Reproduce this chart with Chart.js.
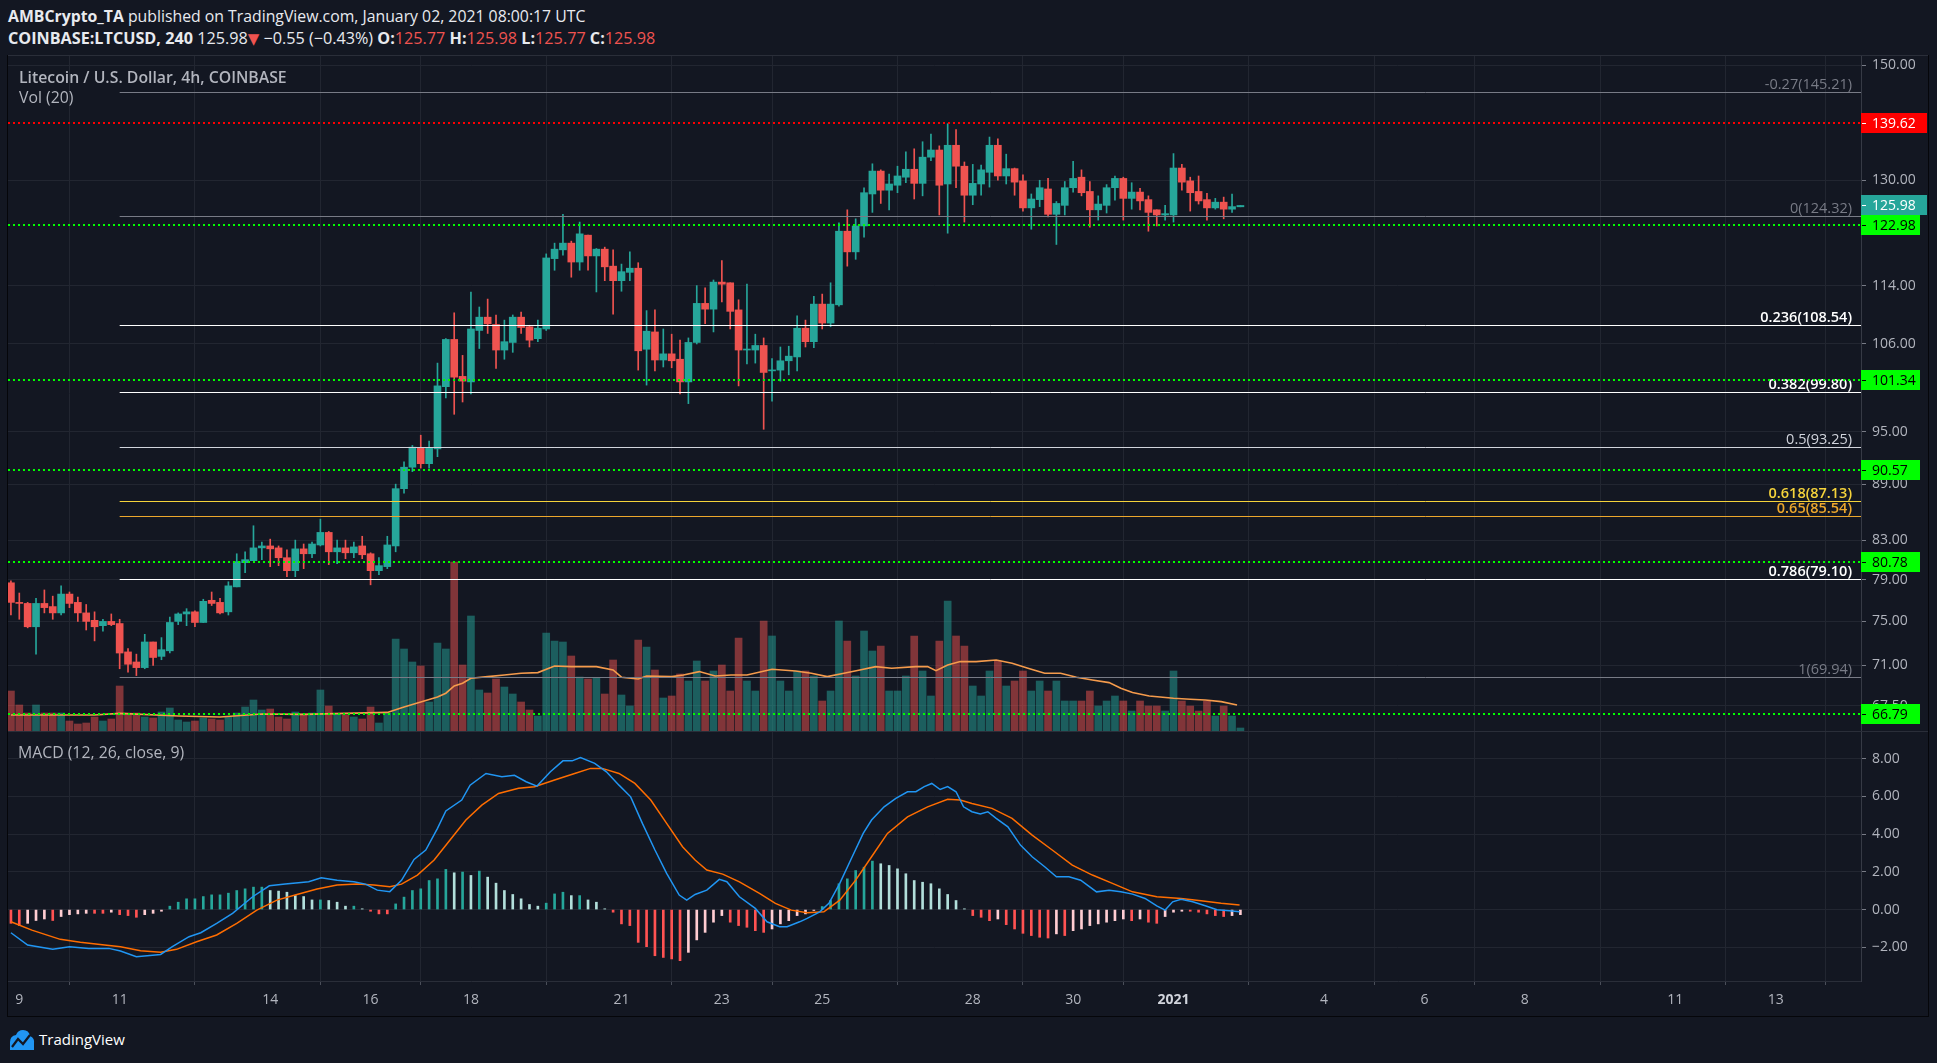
<!DOCTYPE html>
<html>
<head>
<meta charset="utf-8">
<title>Litecoin / U.S. Dollar, 4h, COINBASE</title>
<script src="https://cdn.jsdelivr.net/npm/chart.js"></script>
<style>
    body {
        margin: 0;
        background-color: #131722;
        width: 1937px;
        height: 1063px;
        overflow: hidden;
        font-family: 'Open Sans', sans-serif;
        position: relative;
    }
    .txt { position: absolute; white-space: nowrap; line-height: 20px; }
    .hdr { color: #e8eaef; font-size: 16.2px; left: 8px; }
    .legend { color: #b2b5be; font-size: 15.8px; }
    .red { color: #ef5350; }
    .line { position: absolute; }
    canvas { position: absolute; left: 0; }
</style>
</head>
<body>
    <div class="txt hdr" style="top:6px;font-size:15.8px"><b>AMBCrypto_TA</b> published on TradingView.com, January 02, 2021 08:00:17 UTC</div>
    <div class="txt hdr" style="top:28px"><b>COINBASE:LTCUSD, 240</b> 125.98<span class="red" style="font-family:'DejaVu Sans';font-size:15px">▼</span> −0.55 (−0.43%) <b>O:</b><span class="red">125.77</span> <b>H:</b><span class="red">125.98</span> <b>L:</b><span class="red">125.77</span> <b>C:</b><span class="red">125.98</span></div>

    <canvas id="mainChart" width="1928" height="675" style="top:56px;width:1928px;height:675px"></canvas>
    <canvas id="macdChart" width="1928" height="284" style="top:732px;width:1928px;height:284px"></canvas>

    <div class="txt legend" style="left:19px;top:67px;font-weight:600">Litecoin / U.S. Dollar, 4h, COINBASE</div>
    <div class="txt legend" style="left:19px;top:87px">Vol (20)</div>
    <div class="txt legend" style="left:18px;top:742px">MACD (12, 26, close, 9)</div>

    <!-- frame and pane separators -->
    <div class="line" style="left:7px;top:55px;width:1921px;height:1px;background:#2a2e39"></div>
    <div class="line" style="left:7px;top:731px;width:1921px;height:1px;background:#2a2e39"></div>
    <div class="line" style="left:7px;top:1016px;width:1922px;height:1px;background:#05060a"></div>
    <div class="line" style="left:7px;top:55px;width:1px;height:962px;background:#05060a"></div>
    <div class="line" style="left:1928px;top:55px;width:1px;height:962px;background:#05060a"></div>

    <svg style="position:absolute;left:8px;top:1029px" width="28" height="21" viewBox="0 0 28 21">
        <path d="M2 21 L2 13 Q2 7 8 6 Q10 1 15 1 Q21 1 22 7 Q27 9 26 15 L26 21 Z" fill="#2196f3"/>
        <polyline points="4,18 10,10 15,15 22,6" fill="none" stroke="#131722" stroke-width="2.2"/>
    </svg>
    <div class="txt" style="left:39px;top:1029px;color:#ffffff;font-size:15px">TradingView</div>

<script>
    // 4h candles, index 0 = Dec 8 20:00 UTC ... index 147 = Jan 2 08:00 UTC
    const opens = [78.7,76.8,76.7,74.5,76.7,76.4,75.8,77.6,76.8,75.8,75.1,74.6,75.0,74.8,72.2,71.3,70.8,73.1,71.8,72.3,
        75.0,75.7,75.9,74.9,77.0,76.8,75.9,78.3,80.7,80.9,82.2,82.4,82.2,81.2,79.9,82.1,81.6,82.5,83.8,81.8,
        82.2,81.7,82.4,81.6,79.9,80.3,82.4,88.5,90.9,93.1,91.3,93.0,100.5,106.6,101.8,101.1,107.8,109.6,108.6,105.2,
        106.2,109.6,108.3,106.7,108.0,117.9,119.2,120.2,117.4,121.4,118.3,119.3,116.8,114.7,115.9,116.5,105.3,107.6,103.9,104.7,
        104.0,101.1,106.2,111.5,110.7,114.5,114.4,110.6,105.2,105.2,105.8,102.5,102.6,103.8,104.3,108.1,106.3,111.4,108.8,111.3,
        122.0,118.9,122.8,127.8,131.5,128.4,129.2,130.5,131.8,129.5,133.8,135.0,129.4,135.8,132.3,127.6,129.4,131.3,135.8,130.7,
        131.9,129.9,125.6,126.9,128.6,124.6,126.0,128.8,130.5,128.2,125.3,126.0,128.8,130.3,127.1,128.1,126.9,125.3,124.5,124.5,
        132.0,129.9,128.2,126.9,125.6,126.5,125.4,125.77];
    const highs = [78.9,77.7,76.8,77.2,78.0,77.4,78.4,77.8,77.3,76.6,75.9,75.2,75.7,75.2,72.5,72.0,73.8,73.1,73.5,75.4,
        75.8,76.2,76.0,77.1,77.8,77.2,78.8,81.6,81.8,84.5,82.8,83.1,82.4,82.0,83.0,82.6,82.8,85.2,83.9,83.0,
        83.0,82.8,83.4,81.7,81.2,83.4,89.0,91.5,93.4,94.6,93.9,103.5,106.7,110.2,104.5,113.1,111.0,112.1,109.9,109.2,
        109.9,110.3,108.5,109.2,118.6,120.2,124.6,120.5,123.4,121.4,119.4,119.6,119.2,117.1,118.9,117.3,110.5,110.6,108.0,107.3,
        106.5,106.8,114.0,113.7,114.8,117.6,114.4,112.0,114.2,107.3,106.8,104.1,105.6,105.7,109.8,109.2,112.5,112.8,114.4,123.3,
        125.3,123.9,128.8,132.7,131.7,131.0,132.3,134.7,135.2,136.4,137.7,135.7,139.5,138.5,133.0,132.6,132.5,137.2,136.9,134.3,
        132.0,130.9,127.8,130.0,130.3,126.6,129.8,133.1,131.7,129.8,127.5,129.3,130.7,130.5,129.6,128.7,127.5,125.3,126.0,134.4,
        132.6,130.5,130.7,127.9,127.1,127.3,127.8,125.98];
    const lows = [75.6,75.2,74.4,72.0,75.8,75.2,75.6,76.3,75.0,74.2,73.2,74.1,74.6,70.7,70.4,70.1,70.7,71.0,71.5,72.1,
        74.7,74.6,74.5,74.9,76.5,75.7,75.6,78.3,79.7,80.9,81.0,80.3,80.4,79.3,79.3,80.1,81.2,82.4,80.5,80.6,
        81.1,81.2,81.1,78.5,79.5,80.1,81.8,88.0,90.4,90.8,90.8,92.1,99.1,97.1,98.6,99.6,105.4,107.4,102.8,104.0,
        104.9,107.4,105.6,106.3,107.8,116.2,118.4,115.2,116.2,116.2,113.1,114.7,110.0,113.2,114.7,102.6,100.7,102.5,103.0,102.9,
        99.6,98.4,106.0,108.7,107.6,111.7,108.0,100.6,103.4,103.5,95.3,98.7,101.2,102.0,102.5,105.6,105.5,108.0,108.3,111.1,
        116.8,117.8,121.1,124.9,126.3,125.3,128.0,129.6,127.0,127.5,133.2,124.5,121.7,128.8,123.4,126.1,127.6,128.9,130.0,129.4,
        127.6,125.1,122.3,125.8,124.2,120.0,124.5,128.1,127.5,122.6,123.7,124.8,126.8,123.7,125.4,125.3,122.0,122.8,123.7,123.4,
        128.4,125.1,126.2,123.7,125.4,123.9,124.9,125.77];
    const closes = [76.8,76.7,74.5,76.7,76.3,75.8,77.6,76.7,75.8,75.0,74.5,75.0,74.7,72.1,71.1,70.8,73.1,71.7,72.4,74.9,
        75.7,75.9,74.9,76.9,76.7,75.8,78.4,80.8,81.0,82.2,82.4,82.1,81.2,79.9,82.1,81.6,82.6,83.8,81.8,82.2,
        81.7,82.3,81.5,79.9,80.4,82.5,88.5,90.9,93.2,91.3,93.1,100.6,106.6,101.7,101.2,108.0,109.6,108.7,105.2,106.3,
        109.6,108.2,106.5,108.1,118.0,119.3,120.2,117.4,121.6,118.3,119.3,116.7,114.7,116.0,116.5,105.1,107.7,103.9,104.7,103.8,
        101.1,106.2,111.5,110.7,114.5,114.2,110.4,105.2,105.3,105.8,102.3,102.6,103.8,104.4,108.1,106.3,111.4,108.8,111.4,122.0,
        118.9,122.8,128.0,131.5,128.4,129.4,130.7,131.8,129.5,133.8,135.0,129.2,135.8,132.3,127.6,129.5,131.7,135.8,130.7,131.9,
        129.7,125.6,127.0,128.8,124.6,126.3,128.8,130.3,128.0,125.3,126.2,128.8,130.3,127.1,128.1,126.7,124.9,124.5,124.7,132.0,
        129.7,128.0,126.7,125.6,126.5,125.4,125.8,125.98];
    // volume, thousand LTC per candle
    const volumes = [200,130,90,130,90,90,90,50,35,40,70,50,60,225,90,90,70,65,95,115,
        55,45,50,65,60,55,70,90,120,155,105,110,70,60,95,85,90,205,125,85,
        80,70,60,120,40,90,460,410,345,325,145,440,410,845,330,575,205,190,260,220,
        185,145,105,75,490,450,445,375,270,260,265,185,355,180,125,455,420,305,165,175,
        285,250,350,250,300,330,200,465,250,200,550,475,250,200,300,300,275,150,200,550,
        450,275,500,400,425,200,200,275,475,300,175,450,650,475,425,225,175,300,350,225,
        250,300,200,250,200,250,150,150,150,200,125,150,175,150,100,150,125,125,100,300,
        150,125,100,150,75,125,75,15];
    const volMaIdx = [0,10,13,20,25,30,35,40,45,47,49,51,52,53,54,55,57,59,61,63,65,67,70,72,73,75,76,79,80.4,82.3,
        84.2,86.1,88,91,93.8,95.7,97.6,99.6,101.5,103.4,105.3,108.2,109.6,110.6,112,113.5,115.4,117.8,119.7,121.6,
        123.6,125.5,127.4,129.3,131.3,132.7,134.1,136.1,139,141,142.8,144.7,146.6];
    const volMaVals = [80,80,88,75,70,85,83,88,93,120,145,170,189,225,239,264,272,280,289,292,325,322,322,305,269,260,275,272,280,297,
        275,280,280,309,300,289,272,289,305,322,314,322,322,302,330,347,347,355,339,314,
        289,289,269,255,242,214,192,175,164,159,155,147,130];

    // MACD (12, 26, close, 9)
    const macdIdx = [0,2,5,7,9.3,11.7,13.1,15,17.9,19.3,21.3,22.7,24.6,26.5,28.9,30.9,32.8,34.7,35.6,37.1,
        39,41,42.4,43.8,45.3,46.7,48.2,49.6,51,52,53.9,54.9,56.8,58.7,60.2,61.6,62.9,64.5,66,67.1,
        68.1,69.8,71.2,72.7,74.1,75.5,77,78.4,79.9,80.8,81.8,83.2,84.7,85.6,87.1,89,90.4,91.9,92.8,94.3,
        95.2,96.7,97.8,99.1,100.5,101.9,102.9,104.4,105.8,107.2,108.2,109.2,110.1,111.1,112,113,113.9,114.9,115.9,116.8,
        117.8,119.2,120.7,122.1,123.6,125,126.5,127.9,129.8,131.3,132.7,134.1,135.6,137,138,138.9,139.9,141.3,142.8,144.2,
        145.7,146.9];
    const macdVals = [-1.23,-1.88,-2.11,-1.97,-2.06,-2.06,-2.2,-2.5,-2.38,-1.97,-1.44,-1.23,-0.73,-0.2,0.68,1.26,1.35,1.44,1.48,1.69,
        1.55,1.48,1.35,1.03,0.95,1.55,2.66,3.16,4.31,5.23,5.81,6.6,7.22,7.05,7.12,6.78,6.55,7.31,7.89,7.89,
        8.07,7.76,7.31,6.6,5.98,4.57,3.16,1.92,0.77,0.5,0.8,1.03,1.6,1.48,0.68,0.06,-0.65,-0.91,-0.91,-0.65,
        -0.47,-0.12,0.33,1.39,2.72,4.04,4.75,5.45,5.9,6.25,6.25,6.52,6.69,6.37,6.52,6.25,5.45,5.19,5.07,5.19,
        4.84,4.39,3.42,2.8,2.27,1.74,1.74,1.56,0.94,1.03,0.94,0.82,0.59,0.2,-0.03,0.41,0.54,0.41,0.2,-0.01,
        -0.06,-0.12];
    const signalIdx = [0,2.5,5.9,8.3,11.2,13.1,15.5,17.9,19.8,22.2,24.6,27,29.4,31.8,34.2,36.6,39,41.4,43.4,45.3,
        46.7,48.6,50.6,52.5,54.4,56.3,58.3,60.7,62.6,65,67.4,69.3,70.7,72.7,74.6,76.5,78.4,80.3,81.8,83.2,
        85.1,87.1,89.5,91.4,93.3,95.2,97.2,99.1,101,102.9,104.8,107.2,109.6,112,113.5,114.9,117.3,119.7,122.1,124.5,
        126.9,129.3,131.7,134.1,137,139.9,142.3,144.7,146.9];
    const signalVals = [-0.65,-1.09,-1.58,-1.74,-1.88,-1.97,-2.18,-2.27,-2.11,-1.71,-1.35,-0.73,-0.03,0.5,0.8,1.09,1.3,1.35,1.3,1.21,
        1.35,1.83,2.63,3.69,4.75,5.54,6.16,6.43,6.52,6.87,7.22,7.49,7.49,7.22,6.69,5.81,4.57,3.33,2.63,2.1,
        1.88,1.47,0.86,0.33,-0.03,-0.17,-0.12,0.5,1.56,2.8,4.04,4.92,5.45,5.85,5.81,5.63,5.37,4.84,3.95,3.16,
        2.36,1.83,1.39,0.94,0.68,0.59,0.47,0.33,0.24];
    const hist = [-0.73,-0.85,-0.73,-0.58,-0.5,-0.58,-0.37,-0.27,-0.23,-0.2,-0.2,-0.2,-0.14,-0.27,-0.32,-0.41,-0.27,-0.2,-0.09,0.18,
        0.39,0.57,0.57,0.69,0.78,0.78,0.87,1.01,1.1,1.19,1.19,1.01,0.98,0.92,0.74,0.69,0.51,0.51,0.48,0.39,
        0.18,0.18,0.04,-0.09,-0.23,-0.23,0.3,0.66,1.01,1.1,1.54,1.63,2.13,1.95,1.99,1.81,2.04,1.72,1.4,1.01,
        0.8,0.57,0.27,0.18,0.34,0.83,0.92,0.74,0.74,0.51,0.39,0.04,-0.14,-0.76,-0.85,-1.74,-1.97,-2.45,-2.54,-2.62,
        -2.71,-2.27,-1.61,-1.21,-0.67,-0.32,-0.67,-0.85,-0.94,-1.12,-1.21,-1.03,-0.76,-0.59,-0.32,-0.23,-0.05,0.16,0.48,1.37,
        1.63,2.07,2.25,2.57,2.43,2.34,2.16,1.9,1.54,1.45,1.37,1.1,0.8,0.48,0.04,-0.32,-0.41,-0.59,-0.5,-0.8,
        -1.03,-1.26,-1.38,-1.47,-1.51,-1.29,-1.38,-1.12,-1.03,-0.85,-0.76,-0.67,-0.59,-0.5,-0.59,-0.5,-0.67,-0.73,-0.37,-0.14,
        -0.09,-0.09,-0.14,-0.23,-0.32,-0.37,-0.32,-0.27];

    // axis ticks
    const priceTicks = [67.5, 71, 75, 79, 83, 89, 95, 106, 114, 130, 150];
    const macdTicks = [-2, 0, 2, 4, 6, 8];
    const timeTickIdx = [1, 13, 31, 43, 55, 73, 85, 97, 115, 127, 139, 157, 169, 181, 199, 211];
    const timeTickLabels = ['9', '11', '14', '16', '18', '21', '23', '25', '28', '30', '2021', '4', '6', '8', '11', '13'];

    // Fibonacci retracement drawn from Dec 11
    const fibStart = 13;
    const fibRatios = ['-0.27', '0', '0.236', '0.382', '0.5', '0.618', '0.65', '0.786', '1'];
    const fibPrices = [145.21, 124.32, 108.54, 99.80, 93.25, 87.13, 85.54, 79.10, 69.94];
    const fibColors = ['#787b86', '#787b86', '#ffffff', '#ffffff', '#d1d4dc', '#f5d33b', '#eca72c', '#ffffff', '#787b86'];
    const fibBold = [false, false, true, true, false, true, true, true, false];

    // horizontal support / resistance levels
    const levelPrices = [139.62, 122.98, 101.34, 90.57, 80.78, 66.79];
    const levelColors = ['#ff0000', '#00ff00', '#00ff00', '#00ff00', '#00ff00', '#00ff00'];
    const lastPrice = 125.98;

    const upColor = '#26a69a';
    const downColor = '#ef5350';
    const gridColor = '#222631';
    const axisText = '#b2b5be';
    const fontFam = "'Open Sans', sans-serif";
    const xMin = -0.35, xMax = 221.2;

    const isUp = closes.map((c, i) => c >= opens[i]);

    // keep the plot area edge to edge: no extra room for half tick labels
    function noLabelPadding(s) {
        s.paddingTop = 0;
        s.paddingBottom = 0;
        s.paddingLeft = 0;
        s.paddingRight = 0;
    }

    const levelsPlugin = {
        id: 'levels',
        afterDatasetsDraw(chart) {
            const { ctx, chartArea: a, scales: { x, y } } = chart;
            ctx.save();
            const fx = x.getPixelForValue(fibStart);
            fibPrices.forEach((p, k) => {
                const py = Math.round(y.getPixelForValue(p)) + 0.5;
                ctx.strokeStyle = fibColors[k];
                ctx.lineWidth = 1;
                ctx.beginPath();
                ctx.moveTo(fx, py);
                ctx.lineTo(a.right, py);
                ctx.stroke();
                ctx.fillStyle = fibColors[k];
                ctx.font = (fibBold[k] ? '600 ' : '') + '14.5px ' + fontFam;
                ctx.textAlign = 'right';
                ctx.textBaseline = 'alphabetic';
                ctx.fillText(fibRatios[k] + '(' + p.toFixed(2) + ')', a.right - 9, py - 4);
            });
            ctx.lineWidth = 2;
            ctx.setLineDash([2, 3]);
            levelPrices.forEach((p, k) => {
                const py = Math.round(y.getPixelForValue(p));
                ctx.strokeStyle = levelColors[k];
                ctx.beginPath();
                ctx.moveTo(a.left, py);
                ctx.lineTo(a.right, py);
                ctx.stroke();
            });
            ctx.restore();
        },
        afterDraw(chart) {
            const { ctx, chartArea: a, scales: { y } } = chart;
            ctx.save();
            ctx.font = '14px ' + fontFam;
            ctx.textBaseline = 'middle';
            ctx.textAlign = 'left';
            const tags = levelPrices.map((p, k) => ({ p, bg: levelColors[k], fg: k === 0 ? '#ffffff' : '#000000', w: k === 0 ? 66 : 59 }));
            tags.push({ p: lastPrice, bg: upColor, fg: '#ffffff', w: 66 });
            tags.forEach(t => {
                const py = Math.round(y.getPixelForValue(t.p));
                ctx.fillStyle = t.bg;
                ctx.fillRect(a.right, py - 10, t.w, 20);
                ctx.fillStyle = t.fg;
                ctx.fillRect(a.right + 1, py, 4, 1);
                ctx.fillText(t.p.toFixed(2), a.right + 11, py + 1);
            });
            ctx.restore();
        }
    };

    new Chart(document.getElementById('mainChart'), {
        type: 'bar',
        data: {
            datasets: [
                {
                    type: 'bar', label: 'Body', yAxisID: 'y', order: 1, grouped: false,
                    data: opens.map((o, i) => ({ x: i, y: [Math.min(o, closes[i]), Math.max(o, closes[i])] })),
                    backgroundColor: isUp.map(u => u ? upColor : downColor),
                    barThickness: 7, minBarLength: 1, borderWidth: 0
                },
                {
                    type: 'bar', label: 'Wick', yAxisID: 'y', order: 2, grouped: false,
                    data: lows.map((l, i) => ({ x: i, y: [l, highs[i]] })),
                    backgroundColor: isUp.map(u => u ? upColor : downColor),
                    barThickness: 1, borderWidth: 0
                },
                {
                    type: 'line', label: 'Vol MA', yAxisID: 'yv', order: 3,
                    data: volMaIdx.map((v, k) => ({ x: v, y: volMaVals[k] })),
                    borderColor: '#f59b4c', borderWidth: 1.6, pointRadius: 0, tension: 0
                },
                {
                    type: 'bar', label: 'Volume', yAxisID: 'yv', order: 4, grouped: false,
                    data: volumes.map((v, i) => ({ x: i, y: v })),
                    backgroundColor: isUp.map(u => u ? 'rgba(38,166,154,0.5)' : 'rgba(239,83,80,0.5)'),
                    barThickness: 7, borderWidth: 0
                }
            ]
        },
        options: {
            responsive: false,
            animation: false,
            devicePixelRatio: 1,
            layout: { padding: { left: 8, right: 0, top: 0, bottom: 0 } },
            plugins: { legend: { display: false }, tooltip: { enabled: false } },
            scales: {
                x: {
                    type: 'linear', min: xMin, max: xMax, offset: false, bounds: 'data',
                    afterBuildTicks: s => { s.ticks = timeTickIdx.map(v => ({ value: v })); },
                    afterFit: s => { s.height = 0; noLabelPadding(s); },
                    ticks: { display: false },
                    grid: { color: gridColor, drawTicks: false },
                    border: { display: false }
                },
                y: {
                    type: 'logarithmic', position: 'right', min: 65.42, max: 151.79, bounds: 'data',
                    afterBuildTicks: s => { s.ticks = priceTicks.map(v => ({ value: v })); },
                    afterFit: s => { s.width = 67; noLabelPadding(s); },
                    ticks: {
                        callback: v => Number(v).toFixed(2),
                        color: axisText, font: { family: fontFam, size: 14 }, padding: 6, autoSkip: false
                    },
                    grid: { color: gridColor, tickColor: '#787b86', tickLength: 5 },
                    border: { color: '#363a45' }
                },
                yv: { display: false, min: 0, max: 3375 }
            }
        },
        plugins: [levelsPlugin]
    });

    // MACD histogram colours: growing / falling above and below zero
    const histColors = hist.map((v, i) => {
        const prev = i > 0 ? hist[i - 1] : v;
        if (v >= 0) return v >= prev ? '#26a69a' : '#b2dfdb';
        return v <= prev ? '#ff5252' : '#ffcdd2';
    });

    new Chart(document.getElementById('macdChart'), {
        type: 'bar',
        data: {
            datasets: [
                {
                    type: 'line', label: 'MACD', order: 1,
                    data: macdIdx.map((v, k) => ({ x: v, y: macdVals[k] })),
                    borderColor: '#2196f3', borderWidth: 1.5, pointRadius: 0, tension: 0
                },
                {
                    type: 'line', label: 'Signal', order: 2,
                    data: signalIdx.map((v, k) => ({ x: v, y: signalVals[k] })),
                    borderColor: '#ff6d00', borderWidth: 1.5, pointRadius: 0, tension: 0
                },
                {
                    type: 'bar', label: 'Histogram', order: 3, grouped: false,
                    data: hist.map((v, i) => ({ x: i, y: v })),
                    backgroundColor: histColors, barThickness: 2, borderWidth: 0
                }
            ]
        },
        options: {
            responsive: false,
            animation: false,
            devicePixelRatio: 1,
            layout: { padding: { left: 8, right: 0, top: 0, bottom: 0 } },
            plugins: { legend: { display: false }, tooltip: { enabled: false } },
            scales: {
                x: {
                    type: 'linear', min: xMin, max: xMax, offset: false, bounds: 'data',
                    afterBuildTicks: s => { s.ticks = timeTickIdx.map(v => ({ value: v })); },
                    afterFit: s => { s.height = 35; noLabelPadding(s); },
                    ticks: {
                        autoSkip: false, maxRotation: 0, padding: 7,
                        callback: v => timeTickLabels[timeTickIdx.indexOf(v)],
                        color: ctx => ctx.tick && ctx.tick.label === '2021' ? '#d1d4dc' : axisText,
                        font: ctx => ({ family: fontFam, size: 14, weight: ctx.tick && ctx.tick.label === '2021' ? 'bold' : 'normal' })
                    },
                    grid: { color: gridColor, tickColor: '#4a4e59', tickLength: 4 },
                    border: { color: '#2a2e39' }
                },
                y: {
                    type: 'linear', position: 'right', min: -3.79, max: 9.42, bounds: 'data',
                    afterBuildTicks: s => { s.ticks = macdTicks.map(v => ({ value: v })); },
                    afterFit: s => { s.width = 67; noLabelPadding(s); },
                    ticks: {
                        callback: v => (v < 0 ? '\u2212' : '') + Math.abs(v).toFixed(2),
                        color: axisText, font: { family: fontFam, size: 14 }, padding: 6, autoSkip: false
                    },
                    grid: { color: gridColor, tickColor: '#787b86', tickLength: 5 },
                    border: { color: '#363a45' }
                }
            }
        }
    });
</script>
</body>
</html>
